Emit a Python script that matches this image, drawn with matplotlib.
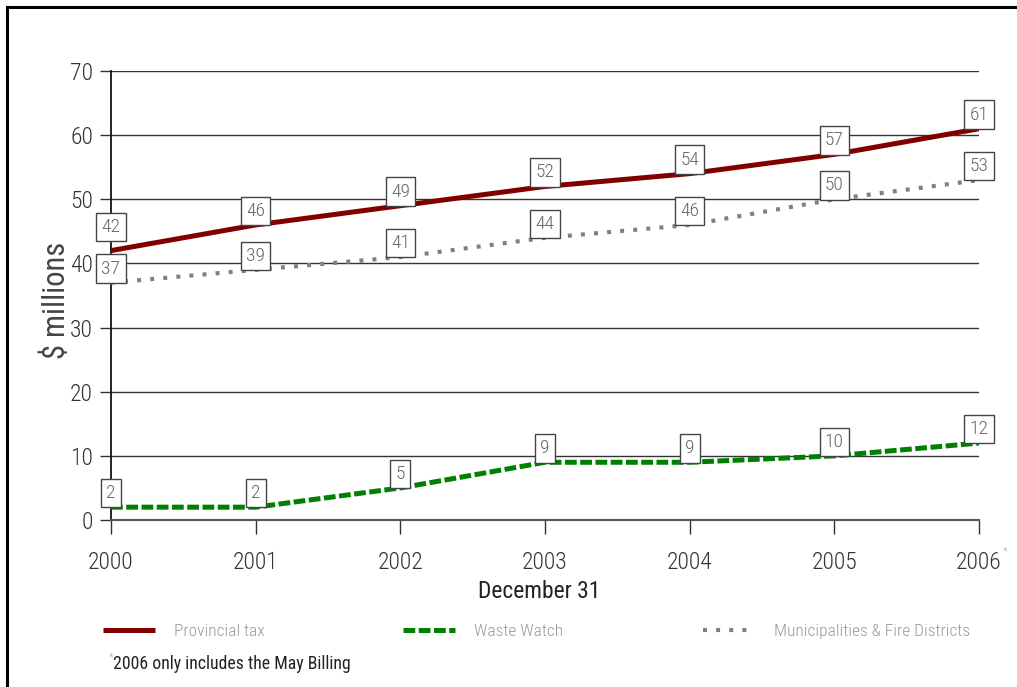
import matplotlib.pyplot as plt
from matplotlib.lines import Line2D

# Data
years = [2000, 2001, 2002, 2003, 2004, 2005, 2006]
year_labels = ['2000', '2001', '2002', '2003', '2004', '2005', '2006']
provincial = [42, 46, 49, 52, 54, 57, 61]
waste_watch = [2, 2, 5, 9, 9, 10, 12]
municipal = [37, 39, 41, 44, 46, 50, 53]

series_names = ['Provincial tax', 'Waste Watch', 'Municipalities & Fire Districts']

FONT = ['Roboto Condensed', 'Liberation Sans Narrow', 'Roboto', 'DejaVu Sans']
plt.rcParams['font.family'] = FONT
plt.rcParams['font.weight'] = 'light'

W, H = 1017, 687
fig = plt.figure(figsize=(W / 100, H / 100), dpi=100)
ax = fig.add_axes([111 / W, 1 - 520 / H, (979 - 111) / W, (520 - 71) / H])

# Lines
l_prov, = ax.plot(years, provincial, color='#800000', lw=3.6, solid_capstyle='butt', zorder=3)
l_waste, = ax.plot(years, waste_watch, color='#008000', lw=3.6, dashes=(2.35, 0.7),
                   dash_capstyle='butt', zorder=3)
l_mun, = ax.plot(years, municipal, color='#808080', lw=3.0, dashes=(0.95, 2.2),
                 dash_capstyle='butt', zorder=3)

# Value boxes, bottom edge sits on the point
def label_points(values, extra=None):
    extra = extra or {}
    for i, (x, v) in enumerate(zip(years, values)):
        ax.annotate(str(v), (x, v), xytext=(0, 3.6 + extra.get(i, 0)),
                    textcoords='offset points', ha='center', va='bottom',
                    fontsize=14, color='#666666', zorder=5,
                    bbox=dict(boxstyle='square,pad=0.27', fc='white', ec='#444444', lw=1))

label_points(provincial, {0: 7})
label_points(municipal)
label_points(waste_watch)

# Axes styling
ax.set_xlim(2000, 2006)
ax.set_ylim(0, 70)
ax.set_yticks(range(0, 71, 10))
ax.set_xticks(years)
ax.set_xticklabels(year_labels)
ax.yaxis.grid(True, color='#333333', lw=1)
ax.set_axisbelow(True)
for s in ['top', 'right']:
    ax.spines[s].set_visible(False)
ax.spines['left'].set_color('black')
ax.spines['left'].set_linewidth(1.2)
ax.spines['bottom'].set_color('#555555')
ax.spines['bottom'].set_linewidth(1.5)
ax.tick_params(axis='y', length=8, width=1, color='#333333', pad=5, labelsize=17, labelcolor='#333333')
ax.tick_params(axis='x', length=10, width=1, color='#333333', pad=12, labelsize=17, labelcolor='#333333')

ax.annotate('*', (2006, 0), xytext=(17.5, -19), textcoords='offset points',
            fontsize=8, color='#aaaaaa', ha='left', va='top')

ax.set_ylabel('$ millions', fontsize=22, color='#444444')
ax.yaxis.set_label_coords(-0.046, 0.49)
ax.set_xlabel('December 31', fontsize=17, color='#222222')
ax.xaxis.set_label_coords(0.493, -0.133)

# Legend, one entry per column
for handle, name, x0 in zip([l_prov, l_waste, l_mun], series_names, [103, 403, 703]):
    fig.legend([handle], [name], loc='center left', bbox_to_anchor=(x0 / W, 1 - 631 / H),
               frameon=False, fontsize=12.5, labelcolor='#999999', handlelength=3.0,
               handletextpad=1.1, borderpad=0, borderaxespad=0)

# Footnote
fig.text(109 / W, 1 - 658 / H, '*', fontsize=8, color='#aaaaaa', va='center')
fig.text(113 / W, 1 - 664 / H, '2006 only includes the May Billing', fontsize=12.8,
         color='#222222', va='center', fontweight='normal')

# Frame at left and top of the page
fig.add_artist(Line2D([7 / W, 7 / W], [0, 1 - 7 / H], color='black', lw=2.2,
                      transform=fig.transFigure, solid_capstyle='projecting'))
fig.add_artist(Line2D([7 / W, 1], [1 - 7 / H, 1 - 7 / H], color='black', lw=2.2,
                      transform=fig.transFigure, solid_capstyle='projecting'))

fig.savefig('out.png', dpi=100, facecolor='white')
